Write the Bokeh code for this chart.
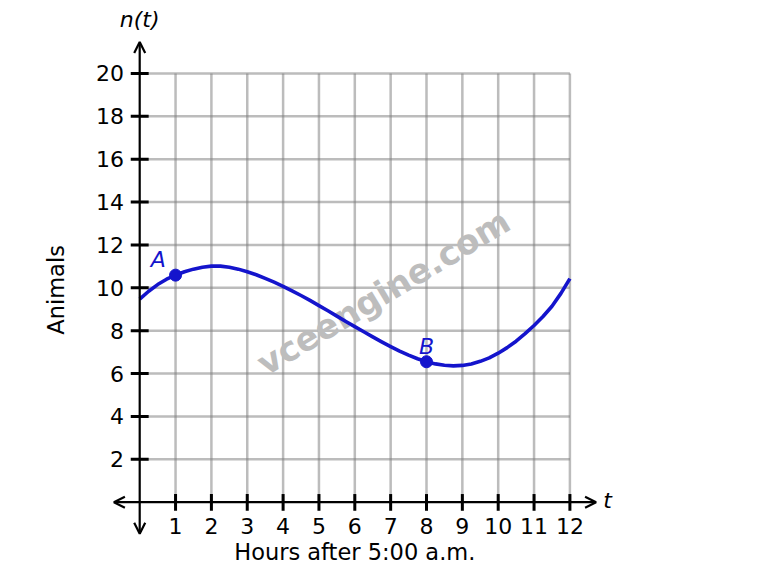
from bokeh.plotting import figure
from bokeh.models import Arrow, OpenHead, Range1d
from bokeh.core.properties import value
from bokeh.embed import file_html
from bokeh.resources import INLINE

# ---- data ----
t_vals = [0, 0.25, 0.5, 0.75, 1, 1.25, 1.5, 1.75, 2, 2.25, 2.5, 2.75, 3, 3.25, 3.5, 3.75,
          4, 4.25, 4.5, 4.75, 5, 5.25, 5.5, 5.75, 6, 6.25, 6.5, 6.75, 7, 7.25, 7.5, 7.75,
          8, 8.25, 8.5, 8.75, 9, 9.25, 9.5, 9.75, 10, 10.25, 10.5, 10.75, 11, 11.25, 11.5,
          11.75, 12]
n_vals = [9.47, 9.84, 10.15, 10.40, 10.59, 10.75, 10.87, 10.96, 11.01, 11.01, 10.96, 10.87,
          10.75, 10.61, 10.44, 10.26, 10.07, 9.86, 9.64, 9.41, 9.17, 8.93, 8.68, 8.43, 8.19,
          7.95, 7.71, 7.48, 7.26, 7.05, 6.86, 6.69, 6.55, 6.45, 6.39, 6.36, 6.38, 6.45, 6.57,
          6.73, 6.95, 7.21, 7.51, 7.86, 8.24, 8.66, 9.14, 9.74, 10.43]
point_t = [1, 8]
point_n = [10.59, 6.55]
point_names = ["A", "B"]
x_ticks = list(range(1, 13))
y_ticks = list(range(2, 21, 2))
x_tick_labels = [str(v) for v in x_ticks]
y_tick_labels = [str(v) for v in y_ticks]
x_title = "Hours after 5:00 a.m."
y_title = "Animals"
watermark = "vceengine.com"

FONT = value("DejaVu Sans")
BLUE = "#1414cc"

p = figure(width=747, height=567, output_backend="svg", toolbar_location=None,
           x_range=Range1d(-3.883, 16.954), y_range=Range1d(-3.046, 23.40),
           min_border=0, outline_line_color=None, background_fill_color="white",
           border_fill_color="white")
p.xaxis.visible = False
p.yaxis.visible = False
p.xgrid.visible = False
p.ygrid.visible = False

# grid
p.segment(x0=x_ticks, y0=[0] * len(x_ticks), x1=x_ticks, y1=[20] * len(x_ticks),
          line_color="#7a7a7a", line_alpha=0.5, line_width=2.5)
p.segment(x0=[0] * len(y_ticks), y0=y_ticks, x1=[12] * len(y_ticks), y1=y_ticks,
          line_color="#7a7a7a", line_alpha=0.5, line_width=2.5)

# watermark
p.text(x=[6.8], y=[9.8], text=[watermark], angle=31, angle_units="deg",
       text_font=FONT, text_font_style="bold", text_font_size="34px",
       text_color="#bdbdbd", text_alpha=1.0, text_align="center", text_baseline="middle")

# axes with arrows
p.add_layout(Arrow(x_start=-0.72, y_start=0, x_end=12.73, y_end=0,
                   start=OpenHead(size=11, line_width=2.2, line_color="black"),
                   end=OpenHead(size=11, line_width=2.2, line_color="black"),
                   line_width=2.2, line_color="black"))
p.add_layout(Arrow(x_start=0, y_start=-1.47, x_end=0, y_end=21.46,
                   start=OpenHead(size=11, line_width=2.2, line_color="black"),
                   end=OpenHead(size=11, line_width=2.2, line_color="black"),
                   line_width=2.2, line_color="black"))

# tick marks
p.segment(x0=x_ticks, y0=[0.38] * len(x_ticks), x1=x_ticks, y1=[-0.40] * len(x_ticks),
          line_color="black", line_width=3)
p.segment(x0=[-0.25] * len(y_ticks), y0=y_ticks, x1=[0.25] * len(y_ticks), y1=y_ticks,
          line_color="black", line_width=3)

# tick labels
p.text(x=x_ticks, y=[-1.1] * len(x_ticks), text=x_tick_labels, text_font=FONT,
       text_font_size="22px", text_color="black", text_align="center", text_baseline="middle")
p.text(x=[-0.44] * len(y_ticks), y=y_ticks, text=y_tick_labels, text_font=FONT,
       text_font_size="22px", text_color="black", text_align="right", text_baseline="middle")

# axis titles
p.text(x=[6.0], y=[-2.33], text=[x_title], text_font=FONT, text_font_size="22.5px",
       text_color="black", text_align="center", text_baseline="middle")
p.text(x=[-2.34], y=[9.9], text=[y_title], text_font=FONT, text_font_size="22.5px", angle=90,
       angle_units="deg", text_color="black", text_align="center", text_baseline="middle")
p.text(x=[0.0], y=[22.5], text=["n(t)"], text_font=FONT, text_font_style="italic",
       text_font_size="22px", text_color="black", text_align="center", text_baseline="middle")
p.text(x=[13.05], y=[0.1], text=["t"], text_font=FONT, text_font_style="italic",
       text_font_size="22px", text_color="black", text_align="center", text_baseline="middle")

# curve and points
p.line(t_vals, n_vals, line_color=BLUE, line_width=3.6, line_join="round")
p.scatter(point_t, point_n, size=12, fill_color=BLUE, line_color=BLUE)
p.text(x=[0.52, 8.0], y=[11.3, 7.25], text=point_names, text_font=FONT,
       text_font_style="italic", text_font_size="22px", text_color=BLUE,
       text_align="center", text_baseline="middle")

open("out.html", "w").write(file_html(p, INLINE))
